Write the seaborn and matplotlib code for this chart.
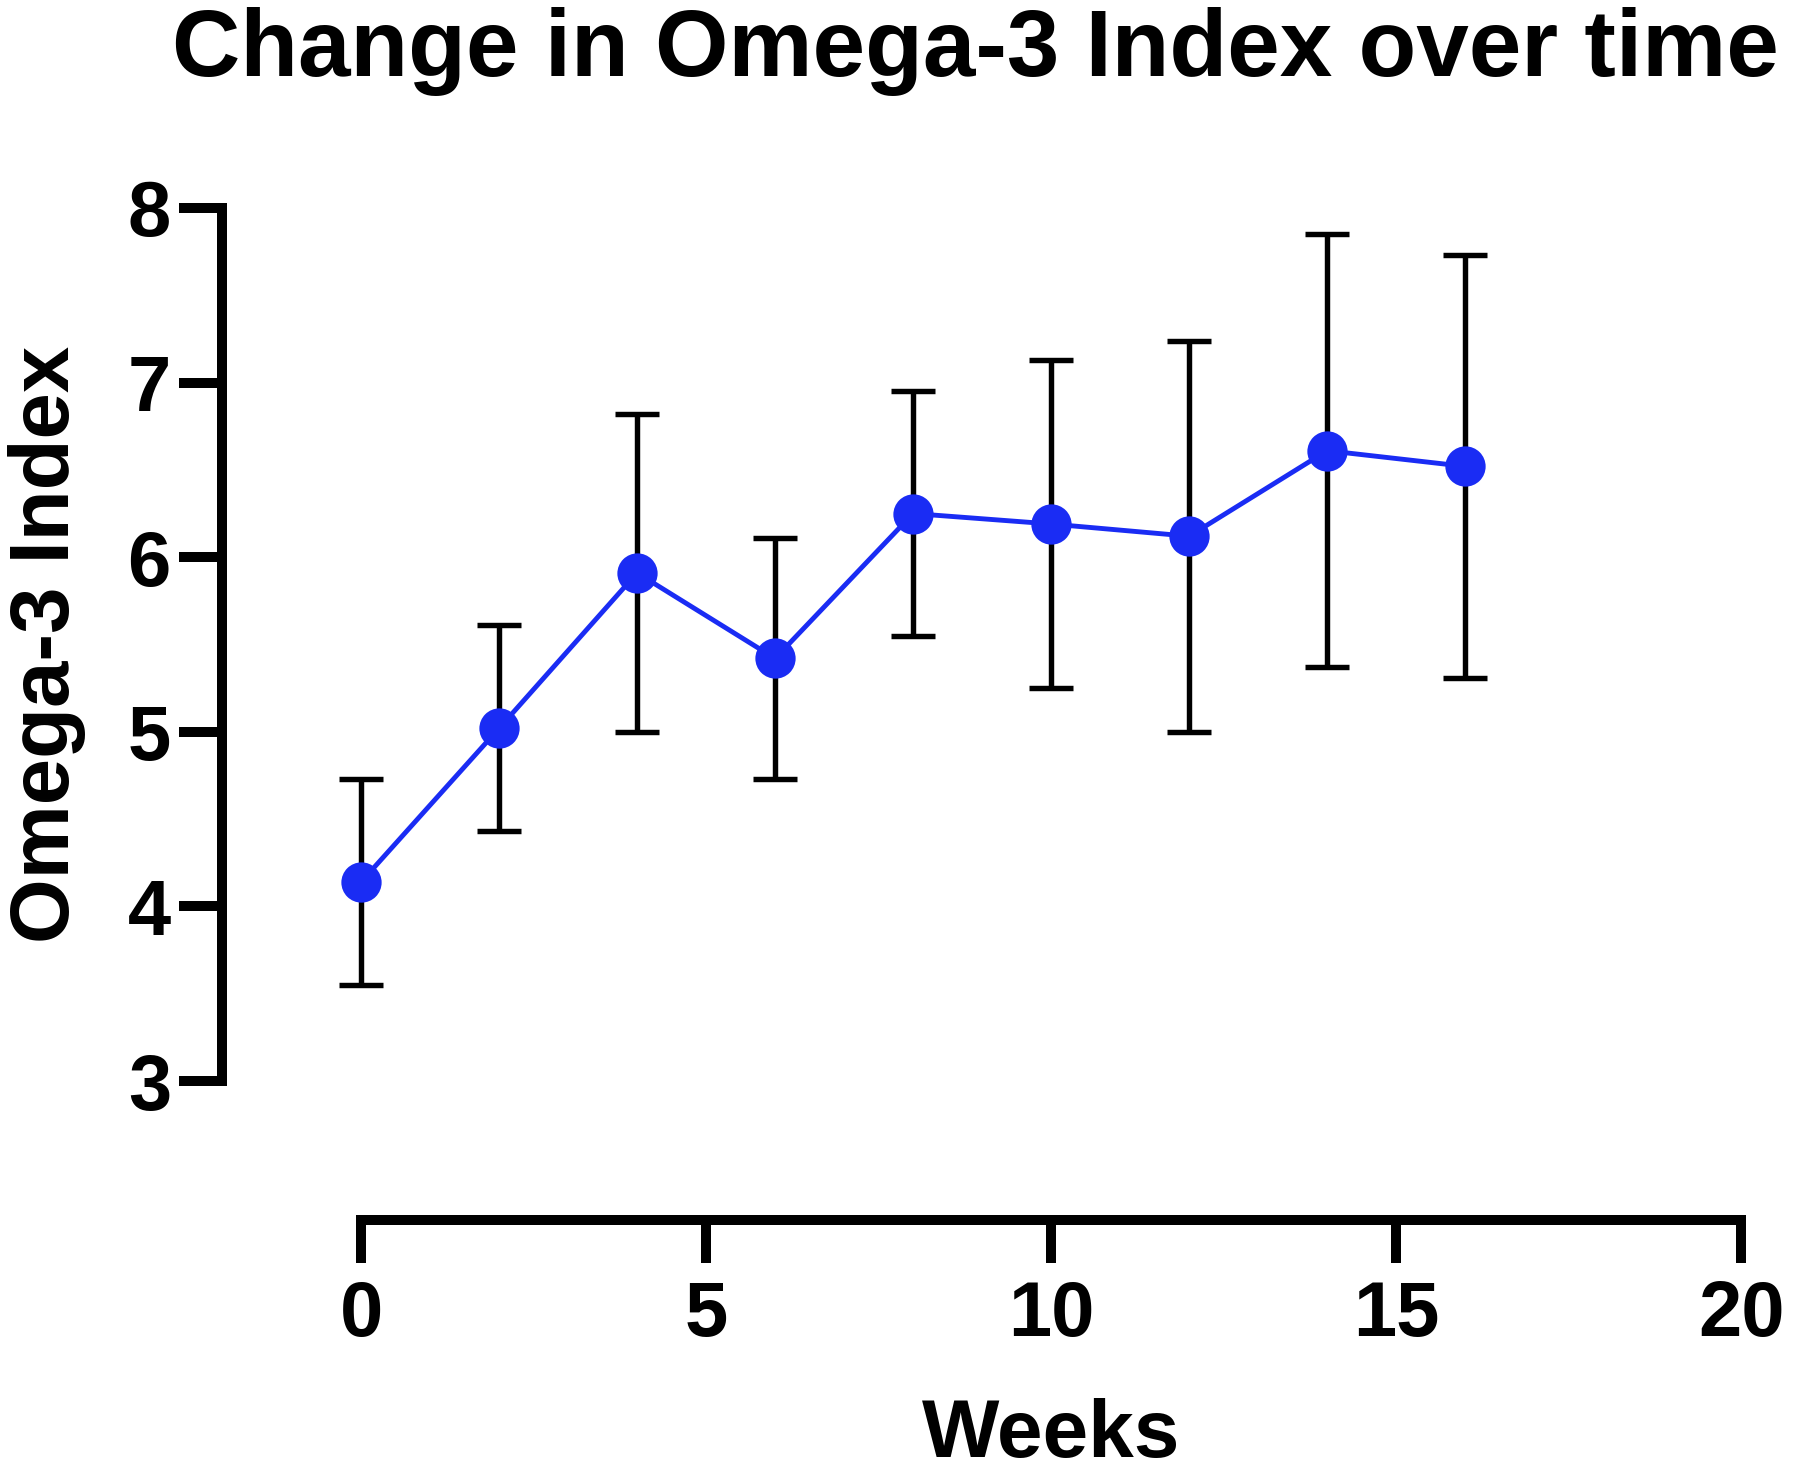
import numpy as np
import pandas as pd
import matplotlib
matplotlib.use("Agg")
import matplotlib.pyplot as plt
import seaborn as sns

# Values
weeks = [0, 2, 4, 6, 8, 10, 12, 14, 16]
omega3_mean = [4.14, 5.02, 5.91, 5.42, 6.25, 6.19, 6.12, 6.61, 6.52]
omega3_sd = [0.59, 0.59, 0.91, 0.69, 0.70, 0.94, 1.12, 1.24, 1.21]

df = pd.DataFrame({"Weeks": weeks, "Index": omega3_mean, "SD": omega3_sd})

sns.set_style("white")
plt.rcParams["font.family"] = ["Liberation Sans", "DejaVu Sans"]
plt.rcParams["font.weight"] = "bold"
plt.rcParams["text.color"] = "black"
plt.rcParams["axes.labelcolor"] = "black"
plt.rcParams["xtick.color"] = "black"
plt.rcParams["ytick.color"] = "black"

fig = plt.figure(figsize=(18, 14.78), dpi=100)
ax = fig.add_axes([0.2006, 0.2686, 0.7667, 0.5907])

blue = "#1a2cf4"

# error bars behind the points
ax.errorbar(df["Weeks"], df["Index"], yerr=df["SD"], fmt="none", ecolor="black",
            elinewidth=3.9, capsize=16, capthick=3.9, zorder=2, clip_on=False)

sns.lineplot(data=df, x="Weeks", y="Index", ax=ax, color=blue, linewidth=3.5,
             marker="o", markersize=29, markeredgewidth=0, zorder=3, clip_on=False)

ax.set_xlim(0, 20)
ax.set_ylim(3, 8)
ax.set_xticks([0, 5, 10, 15, 20])
ax.set_yticks([3, 4, 5, 6, 7, 8])

# Prism-style detached axes
for side in ["top", "right"]:
    ax.spines[side].set_visible(False)
ax.spines["left"].set_position(("outward", 100))
ax.spines["bottom"].set_position(("outward", 100))
ax.spines["left"].set_bounds(3, 8)
ax.spines["bottom"].set_bounds(0, 20)
for side in ["left", "bottom"]:
    ax.spines[side].set_linewidth(7.2)
    ax.spines[side].set_color("black")
    ax.spines[side].set_capstyle("projecting")

ax.tick_params(axis="y", length=31, width=7.2, color="black", pad=6,
               labelsize=56, left=True, labelcolor="black")
ax.tick_params(axis="x", length=31, width=7.2, color="black", pad=11.5,
               labelsize=56, bottom=True, labelcolor="black")
for lab in ax.get_xticklabels() + ax.get_yticklabels():
    lab.set_fontweight("bold")

ax.set_xlabel("Weeks", fontsize=59, fontweight="bold", labelpad=33, color="black")
ax.set_ylabel("Omega-3 Index", fontsize=60, fontweight="bold", labelpad=30, color="black")
fig.suptitle("Change in Omega-3 Index over time", fontsize=68, fontweight="bold",
             x=0.542, y=0.995, va="top", color="black")

fig.savefig("out.png", dpi=100, facecolor="white")
